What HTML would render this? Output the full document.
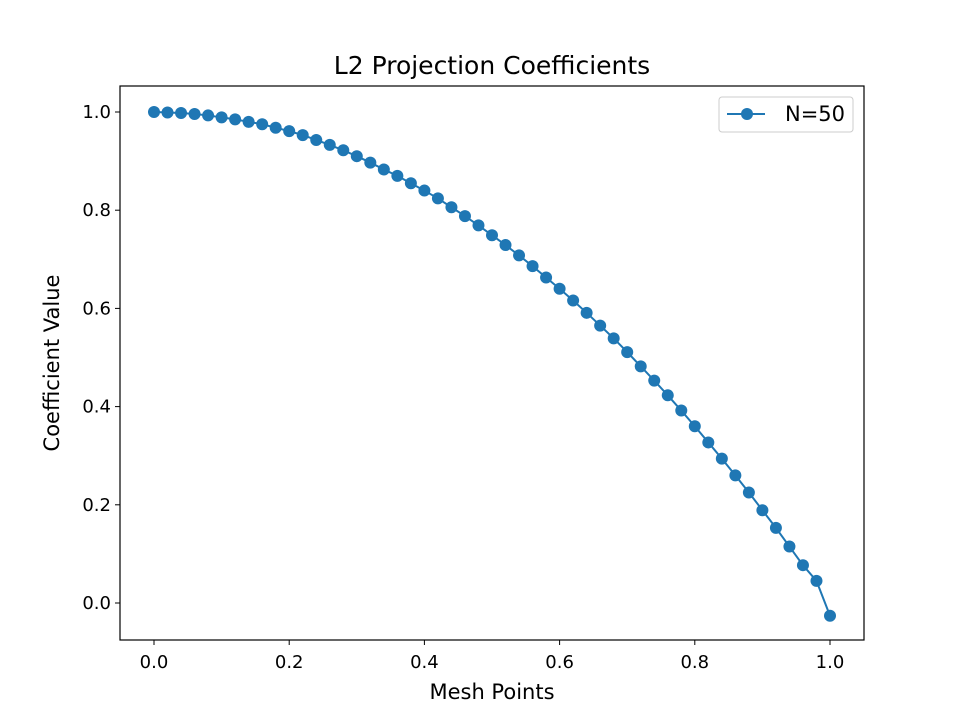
<!DOCTYPE html>
<html><head><meta charset="utf-8"><style>
body{margin:0;background:#fff}
svg text{font-family:"DejaVu Sans","Liberation Sans",sans-serif;fill:#000}
</style></head><body>
<svg id="chart" width="960" height="720">
<rect x="0" y="0" width="960" height="720" fill="#fff"/>
<text x="492" y="74" font-size="25" text-anchor="middle">L2 Projection Coefficients</text>
<g id="marks"></g>
<rect x="120" y="86" width="744" height="554" fill="none" stroke="#000" stroke-width="1.2"/>
<g id="ticks"></g>
<text x="492" y="699" font-size="21" text-anchor="middle">Mesh Points</text>
<text transform="translate(59,363) rotate(-90)" font-size="21" text-anchor="middle">Coefficient Value</text>
<g>
<rect x="719" y="97" width="134" height="35" rx="3" fill="#fff" stroke="#ccc" stroke-width="1"/>
<line x1="727" y1="114" x2="765" y2="114" stroke="#1f77b4" stroke-width="2"/>
<circle cx="747" cy="114" r="6" fill="#1f77b4"/>
<text x="785" y="121" font-size="21">N=50</text>
</g>
</svg>
<script>
const xValues = [];
for (let i = 0; i <= 50; i++) xValues.push(+(i * 0.02).toFixed(2));
const yValues = [1.000,0.999,0.998,0.996,0.993,0.989,0.985,0.980,0.975,0.968,0.961,0.953,0.943,0.933,0.922,0.910,0.897,0.883,0.870,0.855,0.840,0.824,0.806,0.788,0.769,0.749,0.729,0.708,0.686,0.663,0.640,0.616,0.591,0.565,0.539,0.511,0.482,0.453,0.423,0.392,0.360,0.327,0.294,0.260,0.225,0.189,0.153,0.115,0.077,0.045,-0.026];
const xTicks = [0.0,0.2,0.4,0.6,0.8,1.0];
const yTicks = [0.0,0.2,0.4,0.6,0.8,1.0];
const NS = "http://www.w3.org/2000/svg";
const sx = v => 154 + v * 676;
const sy = v => 603 - v * 491;
const marks = document.getElementById('marks');
const ticks = document.getElementById('ticks');
const line = document.createElementNS(NS, 'polyline');
line.setAttribute('points', xValues.map((x, i) => sx(x) + ',' + sy(yValues[i])).join(' '));
line.setAttribute('fill', 'none');
line.setAttribute('stroke', '#1f77b4');
line.setAttribute('stroke-width', '2');


marks.appendChild(line);
xValues.forEach((x, i) => {
  const c = document.createElementNS(NS, 'circle');
  c.setAttribute('cx', sx(x)); c.setAttribute('cy', sy(yValues[i])); c.setAttribute('r', 6);
  c.setAttribute('fill', '#1f77b4');
  
  
  marks.appendChild(c);
});
xTicks.forEach(t => {
  const l = document.createElementNS(NS, 'line');
  l.setAttribute('x1', sx(t)); l.setAttribute('x2', sx(t)); l.setAttribute('y1', 640); l.setAttribute('y2', 645);
  l.setAttribute('stroke', '#000');
  
  
  ticks.appendChild(l);
  const tx = document.createElementNS(NS, 'text');
  tx.setAttribute('x', sx(t)); tx.setAttribute('y', 668); tx.setAttribute('font-size', '18'); tx.setAttribute('text-anchor', 'middle');
  tx.textContent = t.toFixed(1);
  
  
  ticks.appendChild(tx);
});
yTicks.forEach(t => {
  const l = document.createElementNS(NS, 'line');
  l.setAttribute('x1', 115); l.setAttribute('x2', 120); l.setAttribute('y1', sy(t)); l.setAttribute('y2', sy(t));
  l.setAttribute('stroke', '#000');
  
  
  ticks.appendChild(l);
  const tx = document.createElementNS(NS, 'text');
  tx.setAttribute('x', 111); tx.setAttribute('y', sy(t) + 6); tx.setAttribute('font-size', '18'); tx.setAttribute('text-anchor', 'end');
  tx.textContent = t.toFixed(1);
  
  
  ticks.appendChild(tx);
});
</script>
</body></html>
